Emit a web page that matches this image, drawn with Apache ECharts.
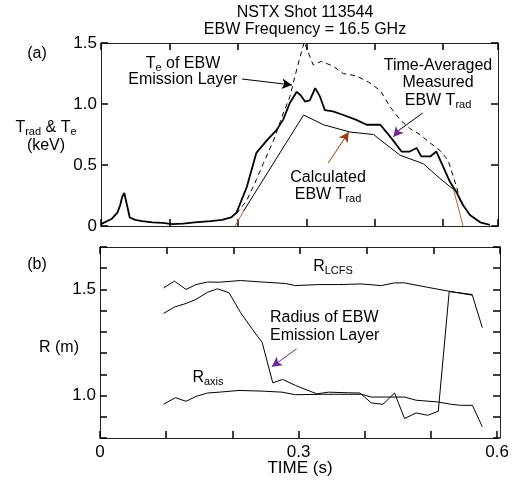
<!DOCTYPE html>
<html><head><meta charset="utf-8">
<script src="https://cdn.jsdelivr.net/npm/echarts@6/dist/echarts.min.js"></script>
<style>html,body{margin:0;padding:0;background:#fff}#c{width:512px;height:484px}</style>
</head><body><div id="c"></div>
<script>
// ---- Panel (a) data: time (s), temperature (keV)
const measT = [0.0,0.016,0.024,0.028,0.031,0.034,0.038,0.042,0.05,0.06,0.075,0.09,0.104,0.12,0.137,0.16,0.177,0.19,0.198,0.213,0.227,0.242,0.257,0.266,0.276,0.286,0.292,0.298,0.305,0.313,0.320,0.327,0.339,0.354,0.373,0.388,0.408,0.417,0.427,0.439,0.451,0.461,0.468,0.481,0.490,0.498,0.510,0.520,0.529,0.539,0.554,0.568];
const measV = [0.015,0.06,0.11,0.17,0.24,0.27,0.17,0.07,0.05,0.04,0.03,0.025,0.016,0.02,0.03,0.04,0.05,0.07,0.11,0.32,0.60,0.70,0.79,0.87,1.01,1.10,1.07,1.02,1.03,1.13,1.06,0.95,0.94,0.91,0.87,0.83,0.83,0.77,0.70,0.61,0.61,0.64,0.57,0.57,0.61,0.51,0.36,0.27,0.17,0.09,0.03,0.01];
const teT = [0.198,0.213,0.227,0.237,0.252,0.266,0.276,0.283,0.291,0.297,0.303,0.310,0.322,0.339,0.354,0.373,0.391,0.408,0.422,0.437,0.451,0.466,0.481,0.495,0.507,0.515,0.520,0.526];
const teV = [0.10,0.21,0.38,0.51,0.70,0.92,1.06,1.22,1.39,1.51,1.42,1.32,1.35,1.31,1.25,1.23,1.18,1.11,0.98,0.87,0.80,0.75,0.68,0.62,0.54,0.40,0.31,0.18];
const calcT = [0.196,0.208,0.296,0.325,0.364,0.398,0.437,0.471,0.495,0.515,0.529];
const calcV = [0.0,0.12,0.91,0.83,0.77,0.75,0.58,0.51,0.39,0.30,0.0];
// ---- Panel (b) data: time (s), radius (m)
const lcfsT = [0.096,0.1125,0.13,0.145,0.1625,0.18,0.2125,0.245,0.28,0.295,0.33,0.36,0.395,0.425,0.445,0.46,0.495,0.53,0.5625,0.5775];
const lcfsR = [1.507,1.539,1.50,1.523,1.535,1.534,1.542,1.535,1.528,1.518,1.523,1.523,1.526,1.518,1.531,1.531,1.51,1.49,1.473,1.32];
const emisT = [0.096,0.1125,0.13,0.145,0.1625,0.1775,0.195,0.2125,0.23,0.245,0.261,0.276,0.295,0.3275,0.345,0.375,0.3925,0.41,0.4275,0.445,0.46,0.4775,0.495,0.511,0.5275,0.5625];
const emisR = [1.387,1.417,1.434,1.453,1.487,1.503,1.484,1.39,1.313,1.25,1.06,1.076,1.048,1.008,1.016,1.013,1.012,0.965,0.959,1.012,0.892,0.918,0.907,0.926,1.49,1.476];
const axisT = [0.096,0.114,0.13,0.145,0.1625,0.18,0.21,0.245,0.275,0.295,0.335,0.375,0.395,0.41,0.445,0.46,0.4775,0.51,0.53,0.545,0.5625,0.5775];
const axisR = [0.959,0.99,0.973,0.996,1.012,1.016,1.024,1.021,1.016,1.004,1.006,1.006,1.006,0.993,0.993,0.993,0.978,0.97,0.959,0.954,0.954,0.853];
// tick labels
const yTicksA = [0, 0.5, 1.0, 1.5];
const yLabelsB = [1.0, 1.5];
const xLabelsB = [0, 0.3, 0.6];

const zip = (a,b) => a.map((v,i)=>[v,b[i]]);
const near = (v, arr) => arr.some(a => Math.abs(a - v) < 1e-6);
const fmt = v => Math.abs(v) < 1e-9 ? '0' : v.toFixed(1);

const F = 'Liberation Sans, Arial, sans-serif';
const AX = '#222';
const ORANGE = '#c4622d';
const PURPLE = '#6b2a8f';
const BROWN = '#9c3b18';

function tick() { return {show:true, inside:true, length:7, lineStyle:{color:'#000', width:1.5}}; }
function xAx(grid, max, showLab, pos) {
  return {type:'value', gridIndex:grid, position:pos, min:0, max:max, interval:0.1,
    axisLine:{show:true, onZero:false, lineStyle:{color:AX, width:1}},
    axisTick:tick(),
    splitLine:{show:false},
    axisLabel:{show:true, margin:6, color:'#000', fontFamily:F, fontSize:17,
      formatter: v => (showLab && near(v, xLabelsB)) ? fmt(v) : ''}};
}
function yAx(grid, min, max, interval, showLab, labs, pos) {
  return {type:'value', gridIndex:grid, position:pos, min:min, max:max, interval:interval,
    axisLine:{show:true, onZero:false, lineStyle:{color:AX, width:1}},
    axisTick:tick(),
    splitLine:{show:false},
    axisLabel:{show:true, margin:4, color:'#000', fontFamily:F, fontSize:17,
      formatter: v => (showLab && near(v, labs)) ? fmt(v) : ''}};
}
function arrow(xi, yi, from, to, color, head) {
  return {type:'line', xAxisIndex:xi, yAxisIndex:yi, data:[], silent:true,
    markLine:{silent:true, animation:false, symbol:['none', head ? 'arrow':'none'], symbolSize:[8,10],
      lineStyle:{color:color, width:1, type:'solid'}, label:{show:false},
      data:[[{coord:from},{coord:to}]]}};
}
function line(xi, yi, data, color, width, type) {
  return {type:'line', xAxisIndex:xi, yAxisIndex:yi, data:data, showSymbol:false, symbol:'none',
    lineStyle:{color:color, width:width, type:type||'solid'}, animation:false, silent:true};
}
function T(x, y, text, size, align) {
  return {type:'text', x:x, y:y, style:{text:text, font:(size||16)+'px '+F, fill:'#000', align:align||'center', verticalAlign:'middle'}};
}
const R = {b:{fontSize:16, lineHeight:18, fontFamily:F}, s:{fontSize:11, lineHeight:8, verticalAlign:'bottom', fontFamily:F}};
function RT(x, y, text, align) {
  return {type:'text', x:x, y:y, style:{text:text, rich:R, fill:'#000', align:align||'center', verticalAlign:'middle'}};
}

// each axis lives in its own grid; the mirror grids overlap the main ones
const gA = {left:101, top:43, width:397, height:183};
const gB = {left:100, top:247, width:400, height:191};

const chart = echarts.init(document.getElementById('c'));
chart.setOption({
  animation:false,
  grid:[gA, gB, gA, gB],
  xAxis:[xAx(0,0.58,false,'bottom'), xAx(1,0.6,true,'bottom'),
         xAx(2,0.58,false,'top'), xAx(3,0.6,false,'top')],
  yAxis:[yAx(0,0,1.5,0.5,true,yTicksA,'left'), yAx(1,0.8,1.7,0.1,true,yLabelsB,'left'),
         yAx(2,0,1.5,0.5,false,yTicksA,'right'), yAx(3,0.8,1.7,0.1,false,yLabelsB,'right')],
  series:[
    line(0,0, zip(teT,teV), '#000', 1, [5,4]),
    line(0,0, zip(calcT,calcV).slice(1,10), '#000', 1),
    line(0,0, zip(calcT,calcV).slice(0,2), ORANGE, 1),
    line(0,0, zip(calcT,calcV).slice(9,11), ORANGE, 1),
    line(0,0, zip(measT,measV), '#000', 1.8),
    line(1,1, zip(lcfsT,lcfsR), '#000', 1),
    line(1,1, zip(emisT,emisR), '#000', 1),
    line(1,1, zip(axisT,axisR), '#000', 1),
    line(2,2, [], '#000', 1),
    line(3,3, [], '#000', 1),
    arrow(0,0,[0.206,1.205],[0.279,1.156],'#000',true),
    arrow(0,0,[0.470,0.926],[0.434,0.78],'#000',false),
    arrow(0,0,[0.437,0.795],[0.427,0.73],PURPLE,true),
    arrow(0,0,[0.332,0.516],[0.362,0.77],BROWN,true),
    arrow(1,1,[0.297,1.22],[0.2595,1.136],PURPLE,true)
  ],
  graphic:[
    T(305, 13, 'NSTX Shot 113544'),
    T(305, 30, 'EBW Frequency = 16.5 GHz'),
    T(37, 54, '(a)'),
    RT(46, 128, '{b|T}{s|rad}{b| & T}{s|e}'),
    T(46, 146, '(keV)'),
    T(37, 265, '(b)'),
    T(59, 348, 'R (m)'),
    T(300, 468, 'TIME (s)', 17),
    RT(183, 64, '{b|T}{s|e}{b| of EBW}'),
    T(183, 80, 'Emission Layer'),
    T(438, 66, 'Time-Averaged'),
    T(438, 83, 'Measured'),
    RT(438, 101, '{b|EBW T}{s|rad}'),
    T(328, 178, 'Calculated'),
    RT(328, 195, '{b|EBW T}{s|rad}'),
    RT(333, 267, '{b|R}{s|LCFS}'),
    T(270, 318, 'Radius of EBW', 16, 'left'),
    T(270, 336, 'Emission Layer', 16, 'left'),
    RT(208, 378, '{b|R}{s|axis}')
  ]
});
</script></body></html>
